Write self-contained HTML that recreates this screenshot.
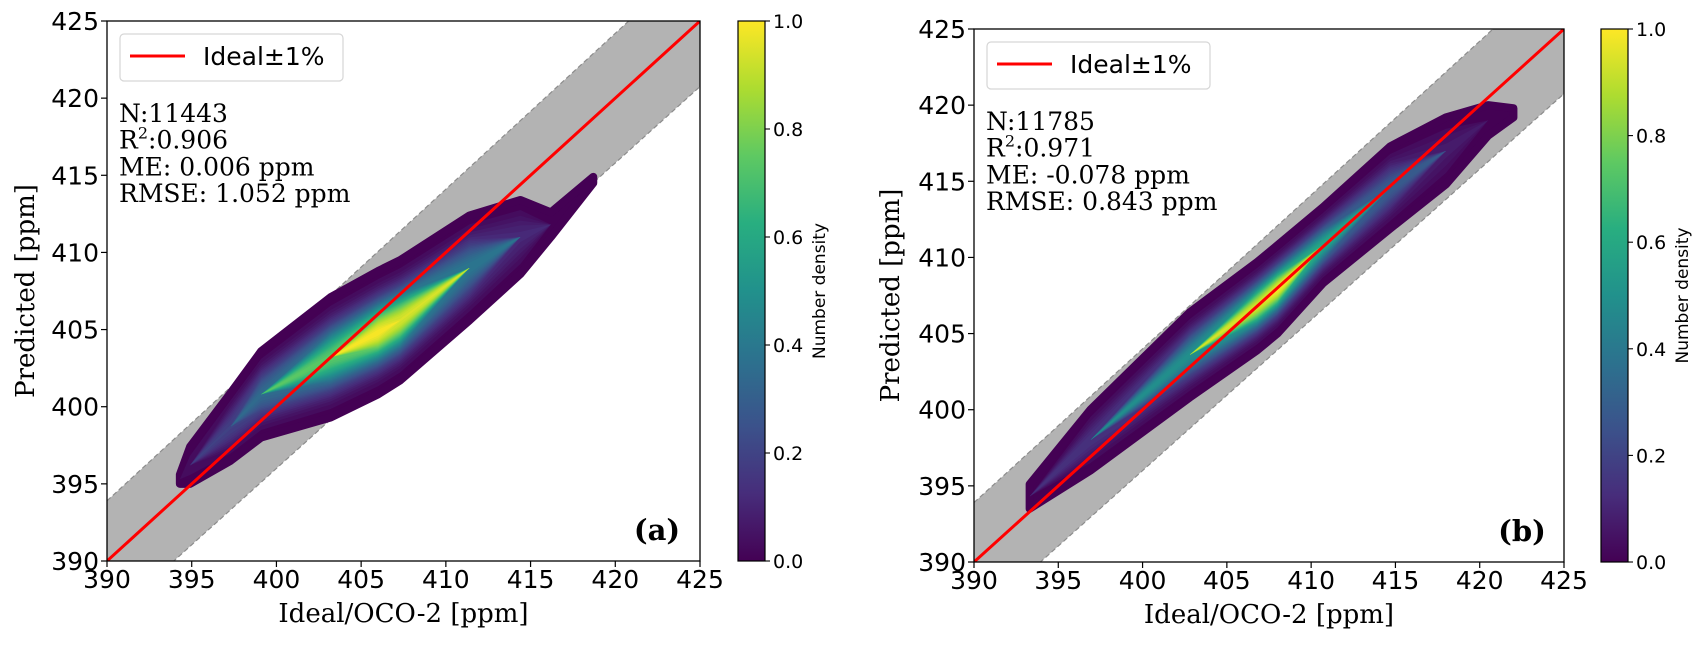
<!DOCTYPE html>
<html><head><meta charset="utf-8">
<style>
html,body{margin:0;padding:0;background:#fff;}
svg{display:block;}
.tk{font-family:"DejaVu Sans","Liberation Sans",sans-serif;font-size:25px;fill:#000;}
.ctk{font-family:"DejaVu Sans","Liberation Sans",sans-serif;font-size:19px;fill:#000;}
.st{font-family:"DejaVu Serif","Liberation Serif",serif;font-size:25px;fill:#000;}
.ttl{font-family:"DejaVu Serif","Liberation Serif",serif;font-size:26px;fill:#000;}
</style></head>
<body>
<svg id="fig" width="1705" height="645" viewBox="0 0 1705 645" xmlns="http://www.w3.org/2000/svg">
<defs>
<linearGradient id="vir" x1="0" y1="1" x2="0" y2="0">
<stop offset="0" stop-color="#440154"/><stop offset="0.125" stop-color="#472d7b"/><stop offset="0.25" stop-color="#3b528b"/><stop offset="0.375" stop-color="#2c728e"/><stop offset="0.5" stop-color="#21918c"/><stop offset="0.625" stop-color="#28ae80"/><stop offset="0.75" stop-color="#5ec962"/><stop offset="0.875" stop-color="#addc30"/><stop offset="1" stop-color="#fde725"/>
</linearGradient>
</defs>
</svg>
<script>
// Panel (a) data
const aIdeal   = [394.3, 394.9, 397.3, 399.1, 403.2, 406.0, 407.3, 411.4, 414.4, 416.2, 418.7];
const aCenter  = [395.3, 396.2, 398.7, 400.8, 403.2, 404.8, 405.6, 409.0, 411.0, 411.8, 414.7];
const aSpread  = [0.3, 1.2, 2.2, 2.8, 3.9, 4.0, 3.9, 3.4, 2.4, 0.8, 0.2];
const aDensity = [0.02, 0.05, 0.2, 0.35, 0.75, 1.0, 0.95, 0.4, 0.12, 0.03, 0.0];
const aStats = ["N:11443", "R²:0.906", "ME: 0.006 ppm", "RMSE: 1.052 ppm"];
// Panel (b) data
const bIdeal   = [393.3, 396.9, 402.8, 406.8, 408.0, 410.7, 414.7, 418.0, 420.5, 422.0];
const bCenter  = [394.3, 398.0, 403.6, 406.8, 407.9, 410.8, 414.6, 417.0, 419.0, 419.5];
const bSpread  = [0.8, 2.0, 2.8, 2.9, 2.9, 2.5, 2.7, 2.2, 1.0, 0.3];
const bDensity = [0.02, 0.15, 0.5, 0.95, 1.0, 0.6, 0.3, 0.08, 0.02, 0.0];
const bStats = ["N:11785", "R²:0.971", "ME: -0.078 ppm", "RMSE: 0.843 ppm"];
const axisTicks = [390, 395, 400, 405, 410, 415, 420, 425];
const cbarTicks = [0.0, 0.2, 0.4, 0.6, 0.8, 1.0];

const NS = "http://www.w3.org/2000/svg";
const svg = document.getElementById('fig');
function mk(tag, attrs, parent, text){
  const e = document.createElementNS(NS, tag);
  for (const k in attrs) e.setAttribute(k, attrs[k]);
  if (text !== undefined) e.textContent = text;
  (parent || svg).appendChild(e);
  return e;
}
const VIR = ["#440154","#472d7b","#3b528b","#2c728e","#21918c","#28ae80","#5ec962","#addc30","#fde725"];
function vir(t){
  t = Math.max(0, Math.min(1, t)); const p = t * 8; const i = Math.min(7, Math.floor(p)); const f = p - i;
  const a = VIR[i], b = VIR[i+1];
  const c = k => Math.round(parseInt(a.substr(k,2),16)*(1-f) + parseInt(b.substr(k,2),16)*f);
  return `rgb(${c(1)},${c(3)},${c(5)})`;
}

function panel(cfg){
  const {L, R, T, B, ideal, center, spread, dens, stats, id} = cfg;
  const sx = v => L + (v - 390) / 35 * (R - L);
  const sy = v => B - (v - 390) / 35 * (B - T);
  const g = mk('g', {});
  
  
  const clipId = 'clip' + id;
  const cp = mk('clipPath', {id: clipId}, g);
  mk('rect', {x: L, y: T, width: R - L, height: B - T}, cp);
  const plot = mk('g', {'clip-path': `url(#${clipId})`}, g);
  const up = x => x * 1.01, lo = x => x * 0.99;
  const band = mk('polygon', {points: `${sx(390)},${sy(up(390))} ${sx(425)},${sy(up(425))} ${sx(425)},${sy(lo(425))} ${sx(390)},${sy(lo(390))}`, fill: '#b3b3b3'}, plot);
  
  
  [up, lo].forEach((f, i) => {
    const ln = mk('line', {x1: sx(390), y1: sy(f(390)), x2: sx(425), y2: sy(f(425)), stroke: '#8c8c8c', 'stroke-width': 1.2, 'stroke-dasharray': '5,3'}, plot);
    
    
  });
  // density cloud layers (gaussian cross-section)
  const cloud = mk('g', {}, plot);
  
  
  const N = 48, tmin = 0.01;
  for (let k = 0; k < N; k++){
    const t = k === 0 ? 0 : tmin + (k / N);
    const top = [], bot = [];
    for (let i = 0; i < ideal.length; i++){
      const d = Math.max(dens[i], 0.011);
      const sig = spread[i] / Math.sqrt(2 * Math.log(Math.max(d, 0.03) / tmin + 1));
      let w;
      if (k === 0) w = spread[i];
      else w = d > t ? Math.min(spread[i], sig * Math.sqrt(2 * Math.log(d / t))) : 0;
      top.push(`${sx(ideal[i])},${sy(center[i] + w)}`);
      bot.unshift(`${sx(ideal[i])},${sy(center[i] - w)}`);
    }
    const p = mk('polygon', {points: top.concat(bot).join(' '), fill: vir(k === 0 ? 0 : t), stroke: k === 0 ? vir(0) : 'none', 'stroke-width': k === 0 ? 8 : 0, 'stroke-linejoin': 'round'}, cloud);
    
    
  }
  const il = mk('line', {x1: sx(390), y1: sy(390), x2: sx(425), y2: sy(425), stroke: '#ff0000', 'stroke-width': 3}, plot);
  
  
  const fr = mk('rect', {x: L, y: T, width: R - L, height: B - T, fill: 'none', stroke: '#000', 'stroke-width': 1.3}, g);
  
  
  axisTicks.forEach(v => {
    mk('line', {x1: sx(v), y1: B, x2: sx(v), y2: B + 6, stroke: '#000', 'stroke-width': 1.2}, g);
    const xl = mk('text', {x: sx(v), y: B + 27, 'text-anchor': 'middle', class: 'tk'}, g, String(v));
    
    
    mk('line', {x1: L - 6, y1: sy(v), x2: L, y2: sy(v), stroke: '#000', 'stroke-width': 1.2}, g);
    const yl = mk('text', {x: L - 8, y: sy(v) + 9, 'text-anchor': 'end', class: 'tk'}, g, String(v));
    
    
  });
  const lg = mk('g', {}, g);
  
  
  mk('rect', {x: L + 13, y: T + 13, width: 223, height: 47, rx: 4, fill: '#fff', 'fill-opacity': 0.85, stroke: '#d6d6d6', 'stroke-width': 1.2}, lg);
  mk('line', {x1: L + 23, y1: T + 35, x2: L + 78, y2: T + 35, stroke: '#ff0000', 'stroke-width': 3}, lg);
  const lt = mk('text', {x: L + 96, y: T + 44, class: 'tk', 'font-size': '24px'}, lg, 'Ideal±1%');
  
  
  stats.forEach((s, i) => {
    const t = mk('text', {x: L + 12, y: T + 101 + i * 26.7, class: 'st'}, g);
    if (s.startsWith('R²')){
      t.appendChild(document.createTextNode('R'));
      mk('tspan', {dy: -10, 'font-size': '16px'}, t, '2');
      mk('tspan', {dy: 10}, t, s.slice(2));
    } else t.textContent = s;
    
    
  });
  const xt = mk('text', {x: (L + R) / 2, y: B + 61, 'text-anchor': 'middle', class: 'ttl'}, g, 'Ideal/OCO-2 [ppm]');
  
  
  const yx = cfg.ytx, yy = (T + B) / 2;
  const yt = mk('text', {x: yx, y: yy, 'text-anchor': 'middle', class: 'ttl', transform: `rotate(-90 ${yx} ${yy})`}, g, 'Predicted [ppm]');
  
  
  const pl = mk('text', {x: cfg.lx, y: B - 21, 'text-anchor': 'middle', 'font-family': '"DejaVu Serif","Liberation Serif",serif', 'font-size': '29px', 'font-weight': 'bold'}, g, `(${id})`);
  
  
  const cb = mk('g', {}, g);
  
  
  const CL = cfg.cbL, CR = cfg.cbL + 27;
  mk('rect', {x: CL, y: T, width: 27, height: B - T, fill: 'url(#vir)', stroke: '#000', 'stroke-width': 1.2}, cb);
  cbarTicks.forEach(v => {
    const y = B - v * (B - T);
    mk('line', {x1: CR, y1: y, x2: CR + 5, y2: y, stroke: '#000', 'stroke-width': 1.1}, cb);
    const c = mk('text', {x: CR + 8, y: y + 7, class: 'ctk'}, cb, v.toFixed(1));
    
    
  });
  const cx = CR + 60, cy = (T + B) / 2;
  const cl = mk('text', {x: cx, y: cy, 'text-anchor': 'middle', 'font-family': '"DejaVu Sans","Liberation Sans",sans-serif', 'font-size': '17px', transform: `rotate(-90 ${cx} ${cy})`}, cb, 'Number density');
  
  
}
panel({id: 'a', L: 107, R: 700, T: 21, B: 561, ideal: aIdeal, center: aCenter, spread: aSpread, dens: aDensity, stats: aStats, cbL: 738, ytx: 34, lx: 657});
panel({id: 'b', L: 974, R: 1564, T: 29, B: 562, ideal: bIdeal, center: bCenter, spread: bSpread, dens: bDensity, stats: bStats, cbL: 1601, ytx: 899, lx: 1522});
</script>
</body></html>
